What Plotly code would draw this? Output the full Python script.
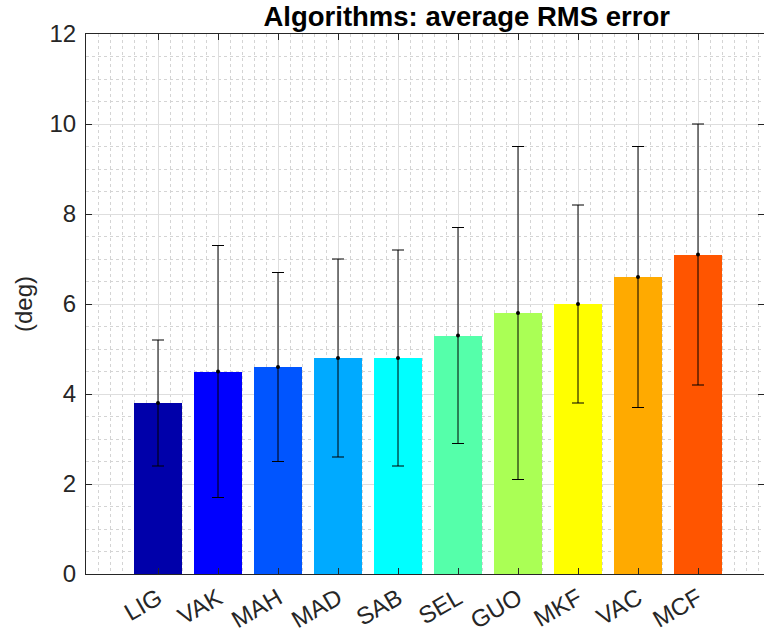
import plotly.graph_objects as go

# Average RMS error per algorithm, with its standard deviation
algorithms = ["LIG", "VAK", "MAH", "MAD", "SAB", "SEL", "GUO", "MKF", "VAC", "MCF"]
rms_mean = [3.8, 4.5, 4.6, 4.8, 4.8, 5.3, 5.8, 6.0, 6.6, 7.1]
rms_std = [1.4, 2.8, 2.1, 2.2, 2.4, 2.4, 3.7, 2.2, 2.9, 2.9]

# jet(10) colour map
jet_colors = [
    "rgb(0,0,170)", "rgb(0,0,255)", "rgb(0,85,255)", "rgb(0,170,255)",
    "rgb(0,255,255)", "rgb(85,255,170)", "rgb(170,255,85)", "rgb(255,255,0)",
    "rgb(255,170,0)", "rgb(255,85,0)",
]

positions = list(range(1, len(algorithms) + 1))
font_family = "Liberation Sans, Arial, sans-serif"

fig = go.Figure()
fig.add_trace(go.Bar(
    x=positions, y=rms_mean, width=0.8,
    marker=dict(color=jet_colors, line=dict(width=0)),
    showlegend=False,
))
fig.add_trace(go.Scatter(
    x=positions, y=rms_mean, mode="markers",
    marker=dict(color="black", size=4),
    error_y=dict(type="data", array=rms_std, visible=True,
                 color="black", thickness=1, width=6),
    showlegend=False,
))

axis_common = dict(
    showline=True, linecolor="#262626", linewidth=1, mirror="ticks",
    ticks="inside", ticklen=6, tickcolor="#262626",
    showgrid=True, gridcolor="#dedede", gridwidth=1,
    zeroline=False, tickfont=dict(family=font_family, size=24, color="#262626"),
)

fig.update_layout(
    width=764, height=634,
    margin=dict(l=86, r=0, t=34, b=60),
    paper_bgcolor="white", plot_bgcolor="white",
    bargap=0,
    title=dict(
        text="<b>Algorithms: average RMS error</b>",
        x=429 / 764, xanchor="center", xref="paper",
        y=1 - 16 / 634, yanchor="middle",
        font=dict(family=font_family, size=27.5, color="black"),
    ),
    xaxis=dict(
        axis_common, range=[-0.2, 11.1],
        tickmode="array", tickvals=positions, ticktext=algorithms,
        tickangle=-30,
        minor=dict(dtick=0.2, tick0=0, showgrid=True, gridcolor="#d4d4d4",
                   griddash="dot", gridwidth=1, ticks=""),
    ),
    yaxis=dict(
        axis_common, range=[0, 12], dtick=2, tick0=0,
        ticklabelstandoff=4,
        title=dict(text="(deg)", font=dict(family=font_family, size=24, color="#262626"),
                   standoff=10),
        minor=dict(dtick=0.5, showgrid=True, gridcolor="#d4d4d4",
                   griddash="dot", gridwidth=1, ticks=""),
    ),
)

fig.write_html("out.html")
